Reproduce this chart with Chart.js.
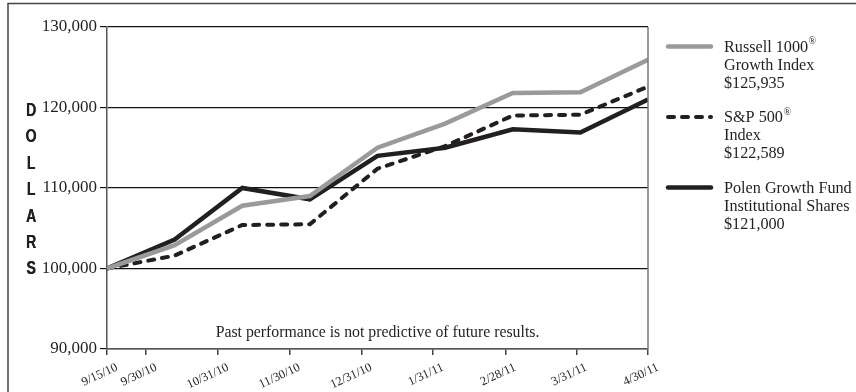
<!DOCTYPE html>
<html>
<head>
<meta charset="utf-8">
<script src="https://cdn.jsdelivr.net/npm/chart.js@4.4.1/dist/chart.umd.min.js"></script>
<style>
  body { margin: 0; background: #fff; }
</style>
</head>
<body>
<canvas id="growth" width="856" height="392"></canvas>
<script>
let canvas = document.querySelector('#growth');

// data points are evenly spaced, date ticks are not
const pointIndex = [0, 1, 2, 3, 4, 5, 6, 7, 8];
const russell = [100000, 102900, 107800, 109000, 115000, 118000, 121800, 121900, 125935];
const sp500 = [100000, 101600, 105400, 105500, 112400, 115200, 119000, 119100, 122589];
const polen = [100000, 103600, 110000, 108600, 114000, 115000, 117300, 116900, 121000];

const tickLabels = ["9/15/10", "9/30/10", "10/31/10", "11/30/10", "12/31/10", "1/31/11", "2/28/11", "3/31/11", "4/30/11"];
const tickPos = [0, 0.58, 1.64, 2.70, 3.76, 4.82, 5.89, 6.94, 8];

const legendText = [
    ["Russell 1000®", "Growth Index", "$125,935"],
    ["S&P 500®", "Index", "$122,589"],
    ["Polen Growth Fund", "Institutional Shares", "$121,000"]
];
const yTitle = "DOLLARS";
const note = "Past performance is not predictive of future results.";

const ink = "#231f20";
const serif = "'Liberation Serif', 'Times New Roman', serif";

function toPoints(values) {
    return values.map((v, i) => ({x: pointIndex[i], y: v}));
}

// draw text, with ® as a small raised mark
function drawSup(ctx, text, x, y, size) {
    let parts = text.split("®");
    ctx.font = size + "px " + serif;
    ctx.fillText(parts[0], x, y);
    if (parts.length > 1) {
        let w = ctx.measureText(parts[0]).width;
        ctx.font = Math.round(size * 0.62) + "px " + serif;
        ctx.fillText("®", x + w + 0.5, y - size * 0.36);
    }
}

const extras = {
    id: "extras",
    beforeDraw(chart) {
        let ctx = chart.ctx;
        ctx.save();
        ctx.fillStyle = "#fff";
        ctx.fillRect(0, 0, chart.width, chart.height);
        // page frame
        ctx.strokeStyle = "#444";
        ctx.lineWidth = 1.5;
        ctx.beginPath();
        ctx.moveTo(8, chart.height);
        ctx.lineTo(8, 3.5);
        ctx.lineTo(chart.width, 3.5);
        ctx.stroke();
        ctx.restore();
    },
    afterDraw(chart) {
        let ctx = chart.ctx;
        let area = chart.chartArea;
        ctx.save();

        // right border of plot
        ctx.strokeStyle = "#777";
        ctx.lineWidth = 1.5;
        ctx.beginPath();
        ctx.moveTo(area.right, area.top);
        ctx.lineTo(area.right, area.bottom);
        ctx.stroke();

        // stacked axis title
        ctx.fillStyle = ink;
        ctx.textAlign = "center";
        ctx.textBaseline = "middle";
        for (let i = 0; i < yTitle.length; i++) {
            ctx.save();
            ctx.translate(31, 111 + i * 26.4);
            ctx.scale(0.78, 1);
            ctx.font = "bold 18px 'Liberation Sans Narrow', 'Liberation Sans', Arial, sans-serif";
            ctx.fillText(yTitle[i], 0, 0);
            ctx.fillText(yTitle[i], 0.4, 0);
            ctx.restore();
        }

        // note
        ctx.font = "15.8px " + serif;
        ctx.fillText(note, (area.left + area.right) / 2, 333);

        // legend
        ctx.textAlign = "left";
        chart.data.datasets.forEach((ds, i) => {
            let y = 46.5 + i * 70.5;
            ctx.save();
            ctx.strokeStyle = ds.borderColor;
            ctx.lineWidth = ds.borderWidth;
            ctx.lineCap = "round";
            ctx.setLineDash(ds.borderDash || []);
            ctx.beginPath();
            ctx.moveTo(668, y);
            ctx.lineTo(711, y);
            ctx.stroke();
            ctx.restore();
            ctx.fillStyle = ink;
            legendText[i].forEach((line, j) => {
                drawSup(ctx, line, 724, y + 1 + j * 18, 16.2);
            });
        });
        ctx.restore();
    }
};

new Chart(canvas, {
    type: "line",
    data: {
        datasets: [{
            label: "Russell 1000 Growth Index",
            data: toPoints(russell),
            borderColor: "#9a9a9a",
            borderWidth: 4.5
        }, {
            label: "S&P 500 Index",
            data: toPoints(sp500),
            borderColor: ink,
            borderWidth: 4,
            borderDash: [6, 8],
            borderCapStyle: "round"
        }, {
            label: "Polen Growth Fund Institutional Shares",
            data: toPoints(polen),
            borderColor: ink,
            borderWidth: 4.5
        }]
    },
    options: {
        responsive: false,
        animation: false,
        elements: {
            point: {radius: 0},
            line: {tension: 0}
        },
        layout: {
            padding: {top: 27, right: 208, left: 0, bottom: 0}
        },
        plugins: {
            legend: {display: false},
            tooltip: {enabled: false}
        },
        scales: {
            x: {
                type: "linear",
                min: 0,
                max: 8,
                afterBuildTicks: axis => {
                    axis.ticks = tickPos.map(v => ({value: v}));
                },
                afterFit: axis => {
                    axis.height = 43;
                },
                grid: {
                    drawOnChartArea: false,
                    drawTicks: true,
                    tickLength: 6,
                    color: "#444",
                    lineWidth: 1.5
                },
                border: {color: "#555", width: 1.5},
                ticks: {
                    autoSkip: false,
                    maxRotation: 25,
                    minRotation: 25,
                    labelOffset: 10,
                    padding: 5,
                    color: ink,
                    font: {family: serif, size: 12.5},
                    callback: (value, index) => tickLabels[index]
                }
            },
            y: {
                min: 90000,
                max: 130000,
                afterFit: axis => {
                    axis.width = 107;
                },
                grid: {
                    color: "#111",
                    lineWidth: 1.2,
                    tickLength: 7,
                    drawTicks: true
                },
                border: {color: "#555", width: 1.5},
                ticks: {
                    stepSize: 10000,
                    padding: 3,
                    color: ink,
                    font: {family: serif, size: 17},
                    callback: value => value.toLocaleString("en-US")
                }
            }
        }
    },
    plugins: [extras]
});
</script>
</body>
</html>
